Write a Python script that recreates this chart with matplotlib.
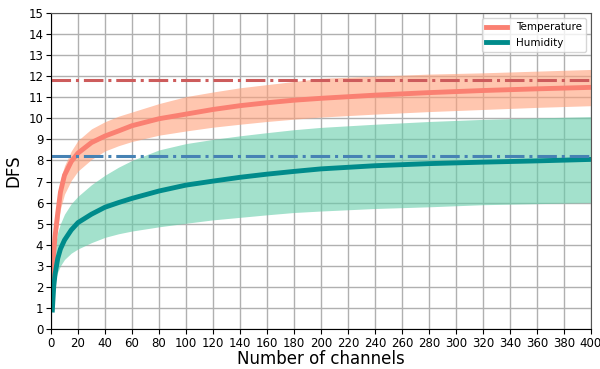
import numpy as np
import matplotlib
matplotlib.use("Agg")
import matplotlib.pyplot as plt

channels = [1, 2, 3, 5, 7, 10, 15, 20, 30, 40, 50, 60, 80, 100, 120, 140,
            160, 180, 200, 240, 280, 320, 360, 400]

temp_mean = [2.5, 3.6, 4.4, 5.5, 6.5, 7.3, 7.95, 8.35, 8.85, 9.16, 9.4, 9.65,
             9.98, 10.2, 10.42, 10.6, 10.74, 10.86, 10.95, 11.1, 11.22, 11.32,
             11.4, 11.47]
temp_upper = [2.8, 4.1, 5.0, 6.2, 7.1, 7.75, 8.45, 8.95, 9.5, 9.84, 10.1, 10.3,
              10.7, 11.03, 11.25, 11.45, 11.6, 11.75, 11.9, 12.0, 12.1, 12.16,
              12.24, 12.32]
temp_lower = [2.2, 3.2, 3.9, 4.8, 5.7, 6.4, 7.05, 7.5, 8.05, 8.45, 8.7, 8.9,
              9.2, 9.4, 9.58, 9.72, 9.85, 9.96, 10.06, 10.2, 10.32, 10.42,
              10.52, 10.6]

hum_mean = [0.9, 2.0, 2.6, 3.35, 3.8, 4.22, 4.7, 5.05, 5.45, 5.78, 6.0, 6.2,
            6.55, 6.83, 7.02, 7.2, 7.35, 7.48, 7.6, 7.75, 7.85, 7.92, 7.98, 8.05]
hum_upper = [1.2, 3.2, 3.9, 4.6, 5.0, 5.45, 5.95, 6.3, 6.85, 7.3, 7.68, 8.0,
             8.5, 8.8, 9.0, 9.17, 9.32, 9.46, 9.57, 9.72, 9.85, 9.95, 10.02, 10.08]
hum_lower = [0.8, 1.9, 2.3, 2.7, 3.0, 3.3, 3.6, 3.8, 4.1, 4.35, 4.52, 4.65,
             4.85, 5.02, 5.18, 5.3, 5.42, 5.53, 5.6, 5.72, 5.8, 5.9, 5.95, 6.0]

temp_ref = 11.8
hum_ref = 8.2

fig = plt.figure(figsize=(6, 3.69), dpi=100)
ax = fig.add_axes([0.085, 0.1084, 0.90, 0.8564])

ax.fill_between(channels, temp_lower, temp_upper, color="lightsalmon", alpha=0.6, lw=0)
ax.fill_between(channels, hum_lower, hum_upper, color="mediumaquamarine", alpha=0.6, lw=0)
ax.plot(channels, temp_mean, color="salmon", lw=3.5, label="Temperature")
ax.plot(channels, hum_mean, color="darkcyan", lw=3.5, label="Humidity")
ax.axhline(temp_ref, color="indianred", lw=2.2, ls="-.")
ax.axhline(hum_ref, color="steelblue", lw=2.2, ls="-.")

ax.set_xlim(0, 400)
ax.set_ylim(0, 15)
ax.set_xticks(np.arange(0, 401, 20))
ax.set_yticks(np.arange(0, 16, 1))
ax.tick_params(labelsize=8.5, pad=2)
ax.grid(True, color="#b0b0b0", lw=1)
ax.set_axisbelow(True)
for s in ["top", "right"]:
    ax.spines[s].set_color("#555555")
ax.set_xlabel("Number of channels", fontsize=12, labelpad=0)
ax.set_ylabel("DFS", fontsize=12)
ax.legend(loc="upper right", fontsize=7.5)

fig.savefig("out.png", dpi=100)
